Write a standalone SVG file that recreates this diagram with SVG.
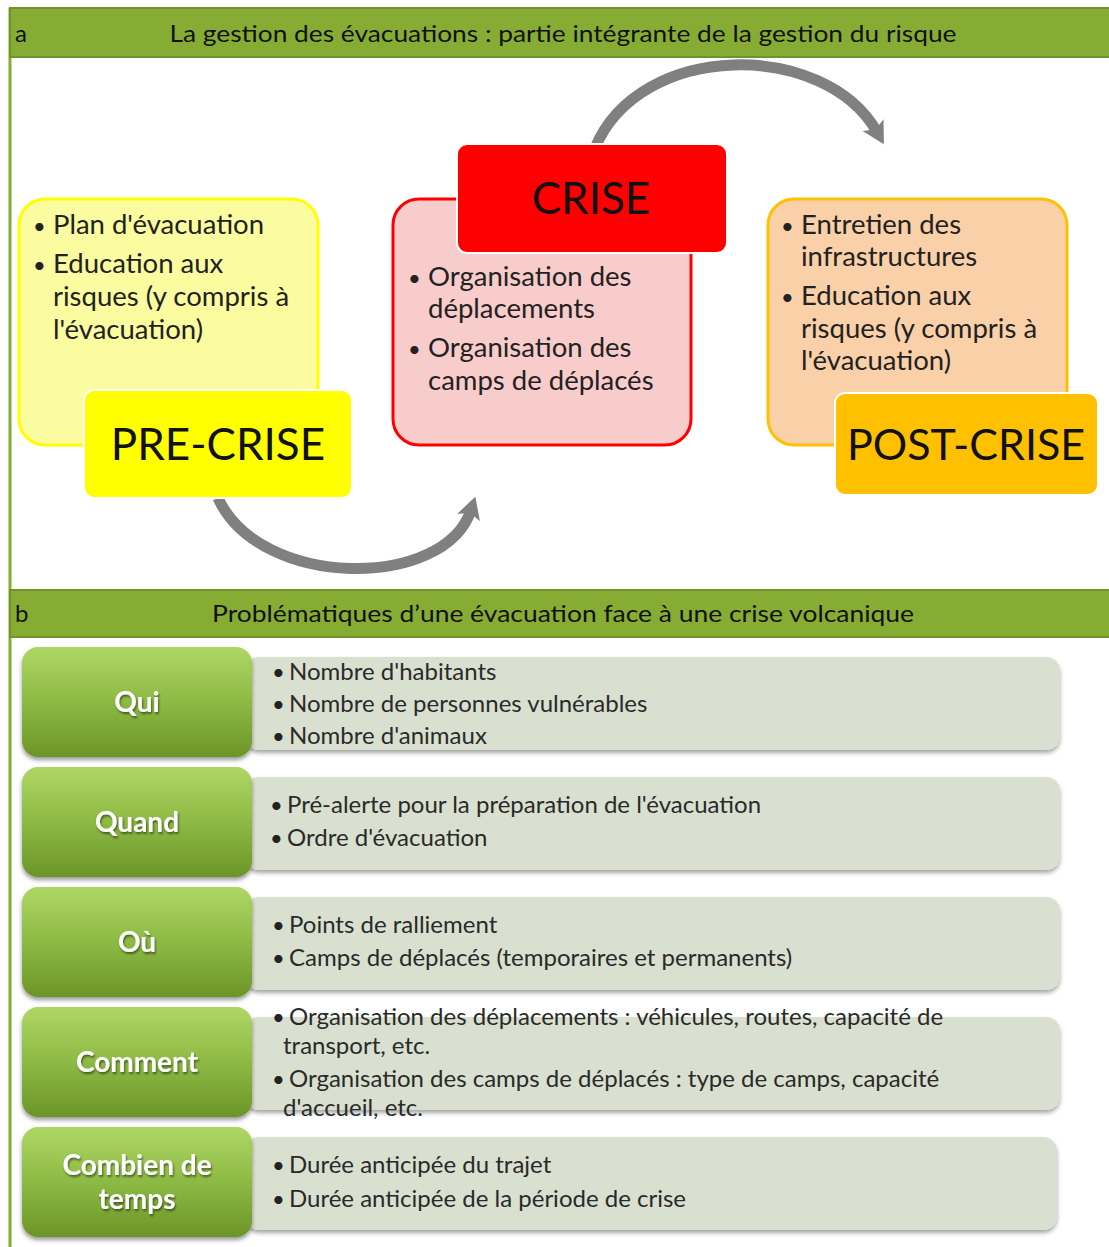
<svg xmlns="http://www.w3.org/2000/svg" width="1109" height="1247" viewBox="0 0 1109 1247">
<style>
.hdr{fill:#87AC34;stroke:#6F9428;stroke-width:2}
.hdrt{font-family:Lato,"Liberation Sans",sans-serif;font-size:24px;fill:#111}
.bt{font-family:Lato,"Liberation Sans",sans-serif;font-size:27.5px;fill:#222}
.bu{font-family:Lato,"Liberation Sans",sans-serif;font-size:22px;fill:#222}
.big{font-family:Lato,"Liberation Sans",sans-serif;font-size:44px;fill:#111;text-anchor:middle}
.lbl{fill:url(#g);filter:url(#sh)}
.lblt{font-family:Lato,"Liberation Sans",sans-serif;font-size:28px;font-weight:bold;fill:#fff;text-anchor:middle;filter:url(#tsh)}
.gb{fill:#D9E0CF;filter:url(#sh2)}
.tt{font-family:Lato,"Liberation Sans",sans-serif;font-size:24px;fill:#2a2a2a}
.arc{fill:none;stroke:#808080;stroke-width:11}
</style>
<defs>
<linearGradient id="g" x1="0" y1="0" x2="0" y2="1">
<stop offset="0" stop-color="#AFD766"/>
<stop offset="0.5" stop-color="#8DBA44"/>
<stop offset="1" stop-color="#6B9528"/>
</linearGradient>
<filter id="sh" x="-10%" y="-10%" width="130%" height="130%">
<feDropShadow dx="0" dy="3" stdDeviation="2" flood-color="#000" flood-opacity="0.4"/>
</filter>
<filter id="sh2" x="-5%" y="-10%" width="110%" height="130%">
<feDropShadow dx="0" dy="3" stdDeviation="2" flood-color="#000" flood-opacity="0.35"/>
</filter>
<filter id="tsh" x="-10%" y="-20%" width="130%" height="150%">
<feDropShadow dx="1" dy="2" stdDeviation="1" flood-color="#000" flood-opacity="0.5"/>
</filter>
<marker id="ah" markerUnits="userSpaceOnUse" markerWidth="30" markerHeight="30" refX="8" refY="12" orient="auto">
<path d="M0 0 L22 12 L0 24 L5 12 Z" fill="#808080"/>
</marker>
</defs>
<rect width="1109" height="1247" fill="#fff"/>
<line x1="10" y1="8" x2="10" y2="1247" stroke="#86AC33" stroke-width="3"/>

<g id="header-a">
<rect class="hdr" x="10" y="8" width="1100" height="49"/>
<text class="hdrt" x="15" y="42">a</text>
<text class="hdrt" x="563" y="42" text-anchor="middle" textLength="787" lengthAdjust="spacingAndGlyphs">La gestion des évacuations : partie intégrante de la gestion du risque</text>
</g>

<g id="connectors">
<path class="arc" d="M 595 148 C 640 40, 825 40, 877 132" marker-end="url(#ah)"/>
<path class="arc" d="M 218 498 C 260 590, 445 590, 471 510" marker-end="url(#ah)"/>
</g>

<g id="pre-crise">
<rect x="19" y="199" width="299" height="246" rx="26" fill="#FBFB9F" stroke="#FFFF00" stroke-width="3"/>
<text class="bu" x="33" y="234">•</text><text class="bt" x="53" y="234">Plan d'évacuation</text>
<text class="bu" x="33" y="273">•</text><text class="bt" x="53" y="273">Education aux</text>
<text class="bt" x="53" y="306">risques (y compris à</text>
<text class="bt" x="53" y="339">l'évacuation)</text>
<rect x="84" y="390" width="268" height="108" rx="10" fill="#FFFF00" stroke="#fff" stroke-width="2"/>
<text class="big" x="218" y="460">PRE-CRISE</text>
</g>

<g id="crise">
<rect x="393" y="199" width="298" height="246" rx="26" fill="#F9CCCC" stroke="#FF0000" stroke-width="3"/>
<rect x="457" y="144" width="270" height="109" rx="10" fill="#FF0000" stroke="#fff" stroke-width="2"/>
<text class="big" x="591" y="214">CRISE</text>
<text class="bu" x="408" y="286">•</text><text class="bt" x="428" y="286">Organisation des</text>
<text class="bt" x="428" y="318">déplacements</text>
<text class="bu" x="408" y="357">•</text><text class="bt" x="428" y="357">Organisation des</text>
<text class="bt" x="428" y="390">camps de déplacés</text>
</g>

<g id="post-crise">
<rect x="768" y="199" width="299" height="246" rx="26" fill="#FAD0A8" stroke="#FFC000" stroke-width="3"/>
<text class="bu" x="781" y="234">•</text><text class="bt" x="801" y="234">Entretien des</text>
<text class="bt" x="801" y="266">infrastructures</text>
<text class="bu" x="781" y="305">•</text><text class="bt" x="801" y="305">Education aux</text>
<text class="bt" x="801" y="338">risques (y compris à</text>
<text class="bt" x="801" y="370">l'évacuation)</text>
<rect x="835" y="393" width="263" height="102" rx="10" fill="#FFC000" stroke="#fff" stroke-width="2"/>
<text class="big" x="966" y="460" style="font-size:43px">POST-CRISE</text>
</g>

<g id="header-b">
<rect class="hdr" x="10" y="590" width="1100" height="47"/>
<text class="hdrt" x="15" y="622">b</text>
<text class="hdrt" x="563" y="622" text-anchor="middle" textLength="702" lengthAdjust="spacingAndGlyphs">Problématiques d’une évacuation face à une crise volcanique</text>
</g>

<g id="row-qui">
<rect class="gb" x="245" y="657" width="815" height="93" rx="14"/>
<rect class="lbl" x="22" y="647" width="230" height="110" rx="16"/>
<text class="lblt" x="137" y="712">Qui</text>
<text class="bu" x="272" y="680">•</text><text class="tt" x="289" y="680">Nombre d'habitants</text>
<text class="bu" x="272" y="712">•</text><text class="tt" x="289" y="712">Nombre de personnes vulnérables</text>
<text class="bu" x="272" y="744">•</text><text class="tt" x="289" y="744">Nombre d'animaux</text>
</g>

<g id="row-quand">
<rect class="gb" x="245" y="777" width="815" height="93" rx="14"/>
<rect class="lbl" x="22" y="767" width="230" height="110" rx="16"/>
<text class="lblt" x="137" y="832">Quand</text>
<text class="bu" x="270" y="813">•</text><text class="tt" x="287" y="813">Pré-alerte pour la préparation de l'évacuation</text>
<text class="bu" x="270" y="846">•</text><text class="tt" x="287" y="846">Ordre d'évacuation</text>
</g>

<g id="row-ou">
<rect class="gb" x="245" y="897" width="815" height="93" rx="14"/>
<rect class="lbl" x="22" y="887" width="230" height="110" rx="16"/>
<text class="lblt" x="137" y="952">Où</text>
<text class="bu" x="272" y="933">•</text><text class="tt" x="289" y="933">Points de ralliement</text>
<text class="bu" x="272" y="966">•</text><text class="tt" x="289" y="966">Camps de déplacés (temporaires et permanents)</text>
</g>

<g id="row-comment">
<rect class="gb" x="245" y="1017" width="815" height="93" rx="14"/>
<rect class="lbl" x="22" y="1007" width="230" height="110" rx="16"/>
<text class="lblt" x="137" y="1072">Comment</text>
<text class="bu" x="272" y="1025">•</text><text class="tt" x="289" y="1025">Organisation des déplacements : véhicules, routes, capacité de</text>
<text class="tt" x="283" y="1054">transport, etc.</text>
<text class="bu" x="272" y="1087">•</text><text class="tt" x="289" y="1087">Organisation des camps de déplacés : type de camps, capacité</text>
<text class="tt" x="283" y="1116">d'accueil, etc.</text>
</g>

<g id="row-combien">
<rect class="gb" x="245" y="1137" width="812" height="93" rx="14"/>
<rect class="lbl" x="22" y="1127" width="230" height="110" rx="16"/>
<text class="lblt" x="137" y="1175">Combien de</text>
<text class="lblt" x="137" y="1209">temps</text>
<text class="bu" x="272" y="1173">•</text><text class="tt" x="289" y="1173">Durée anticipée du trajet</text>
<text class="bu" x="272" y="1207">•</text><text class="tt" x="289" y="1207">Durée anticipée de la période de crise</text>
</g>
</svg>
